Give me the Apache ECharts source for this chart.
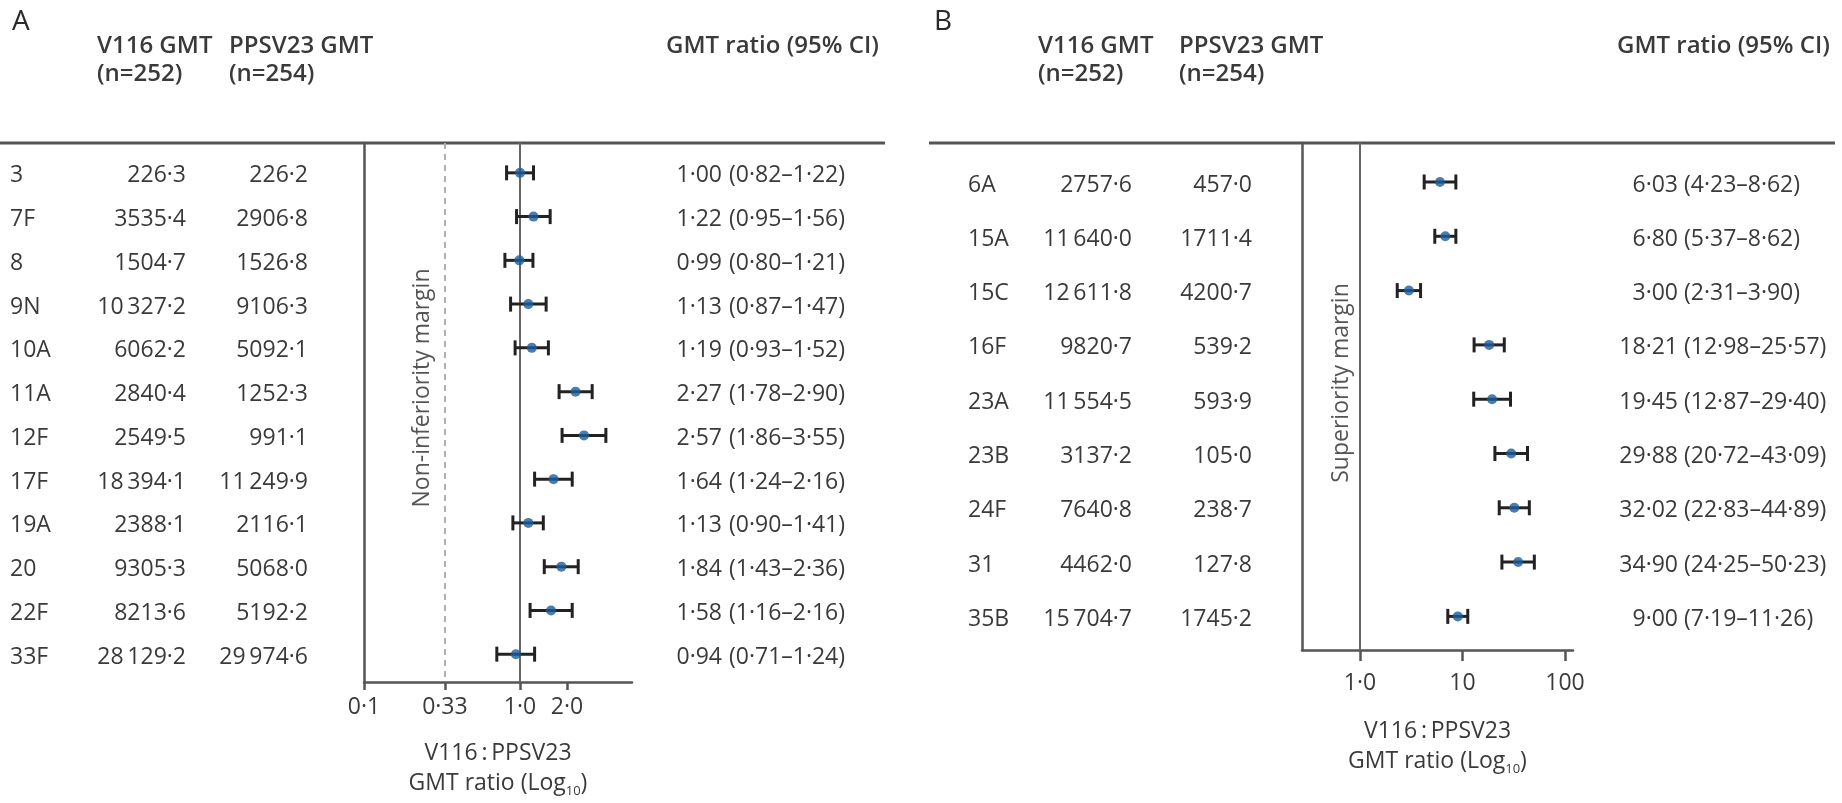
<!DOCTYPE html>
<html>
<head>
<meta charset="utf-8">
<script src="https://cdn.jsdelivr.net/npm/echarts@6/dist/echarts.min.js"></script>
<style>
  html, body { margin: 0; padding: 0; background: #fff; }
  #chart { width: 1842px; height: 803px; }
</style>
</head>
<body>
<div id="chart"></div>
<script>
// ---- Panel A: serotypes shared with PPSV23 (non-inferiority) ----
const serotypesA = ['3', '7F', '8', '9N', '10A', '11A', '12F', '17F', '19A', '20', '22F', '33F'];
const v116GmtA   = [226.3, 3535.4, 1504.7, 10327.2, 6062.2, 2840.4, 2549.5, 18394.1, 2388.1, 9305.3, 8213.6, 28129.2];
const ppsvGmtA   = [226.2, 2906.8, 1526.8, 9106.3, 5092.1, 1252.3, 991.1, 11249.9, 2116.1, 5068.0, 5192.2, 29974.6];
const ratioA     = [1.00, 1.22, 0.99, 1.13, 1.19, 2.27, 2.57, 1.64, 1.13, 1.84, 1.58, 0.94];
const lowA       = [0.82, 0.95, 0.80, 0.87, 0.93, 1.78, 1.86, 1.24, 0.90, 1.43, 1.16, 0.71];
const highA      = [1.22, 1.56, 1.21, 1.47, 1.52, 2.90, 3.55, 2.16, 1.41, 2.36, 2.16, 1.24];
const ticksA      = [0.1, 0.33, 1.0, 2.0];
const tickLabelsA = ['0·1', '0·33', '1·0', '2·0'];
const nonInferiorityMargin = 0.33;

// ---- Panel B: serotypes unique to V116 (superiority) ----
const serotypesB = ['6A', '15A', '15C', '16F', '23A', '23B', '24F', '31', '35B'];
const v116GmtB   = [2757.6, 11640.0, 12611.8, 9820.7, 11554.5, 3137.2, 7640.8, 4462.0, 15704.7];
const ppsvGmtB   = [457.0, 1711.4, 4200.7, 539.2, 593.9, 105.0, 238.7, 127.8, 1745.2];
const ratioB     = [6.03, 6.80, 3.00, 18.21, 19.45, 29.88, 32.02, 34.90, 9.00];
const lowB       = [4.23, 5.37, 2.31, 12.98, 12.87, 20.72, 22.83, 24.25, 7.19];
const highB      = [8.62, 8.62, 3.90, 25.57, 29.40, 43.09, 44.89, 50.23, 11.26];
const ticksB      = [1, 10, 100];
const tickLabelsB = ['1·0', '10', '100'];
const superiorityMargin = 1.0;

const headerV116 = ['V116 GMT', '(n=252)'];
const headerPpsv = ['PPSV23 GMT', '(n=254)'];
const headerRatio = 'GMT ratio (95% CI)';

// ---- styling ----
const FONT = '"Open Sans", "Noto Sans", sans-serif';
const TEXT = '#3a3a3a';
const AXIS = '#555555';
const POINT = '#1d5c9c';
const BAR = '#222222';
const BODY = 23;

const lg = Math.log10;

// Lancet-style numbers: middle-dot decimals, thin-space thousands for 5+ digits
function fmtGmt(v) {
  let [i, d] = v.toFixed(1).split('.');
  if (i.length > 4) i = i.slice(0, i.length - 3) + '\u2009' + i.slice(-3);
  return i + '·' + d;
}
function fmtRatio(v) { return v.toFixed(2).replace('.', '·'); }

const panels = [
  {
    rows: serotypesA, v116: v116GmtA, ppsv: ppsvGmtA, ratio: ratioA, low: lowA, high: highA,
    ticks: ticksA, tickLabels: tickLabelsA,
    grid: { left: 364, top: 143, width: 268, height: 542 },
    xRange: [0.1, 5.22], yRange: [-0.682, 11.636],
    cols: { label: 10, v116: 186, ppsv: 308, ratio: 722, ci: 729 },
    tickLen: 8, labelMargin: 14, nameGap: 56,
    refLines: [
      { xAxis: lg(1.0), lineStyle: { type: 'solid', color: '#666', width: 2 } },
      { xAxis: lg(nonInferiorityMargin), lineStyle: { type: [6, 5], color: '#b0b0b0', width: 2 } }
    ]
  },
  {
    rows: serotypesB, v116: v116GmtB, ppsv: ppsvGmtB, ratio: ratioB, low: lowB, high: highB,
    ticks: ticksB, tickLabels: tickLabelsB,
    grid: { left: 1302, top: 143, width: 271, height: 507 },
    xRange: [0.272, 119.7], yRange: [-0.718, 8.619],
    cols: { label: 968, v116: 1132, ppsv: 1252, ratio: 1678, ci: 1684 },
    tickLen: 11, labelMargin: 22, nameGap: 66,
    refLines: [
      { xAxis: lg(superiorityMargin), lineStyle: { type: 'solid', color: '#666', width: 2 } }
    ]
  }
];

const grids = [], xAxes = [], yAxes = [], series = [];

panels.forEach((p, k) => {
  grids.push(Object.assign({ containLabel: false }, p.grid));

  const tickVals = p.ticks.map(lg);
  xAxes.push({
    type: 'value', gridIndex: k,
    min: lg(p.xRange[0]), max: lg(p.xRange[1]),
    axisLine: { show: true, onZero: false, lineStyle: { color: AXIS, width: 2.5 } },
    axisTick: { show: true, customValues: tickVals, length: p.tickLen, lineStyle: { color: AXIS, width: 2.5 } },
    axisLabel: {
      show: true, customValues: tickVals, margin: p.labelMargin,
      fontFamily: FONT, fontSize: BODY, color: TEXT,
      formatter: v => {
        const idx = tickVals.findIndex(t => Math.abs(t - v) < 1e-6);
        return idx >= 0 ? p.tickLabels[idx] : '';
      }
    },
    splitLine: { show: false },
    name: '{a|V116\u2009:\u2009PPSV23}\n{a|GMT ratio (Log}{s|10}{a|)}',
    nameLocation: 'middle', nameGap: p.nameGap,
    nameTextStyle: {
      rich: {
        a: { fontFamily: FONT, fontSize: BODY, color: TEXT, lineHeight: 30 },
        s: { fontFamily: FONT, fontSize: 13, color: TEXT, lineHeight: 30, verticalAlign: 'bottom' }
      }
    }
  });

  yAxes.push({
    type: 'value', gridIndex: k, inverse: true,
    min: p.yRange[0], max: p.yRange[1],
    axisLine: { show: true, onZero: false, lineStyle: { color: AXIS, width: 2.5 } },
    axisTick: { show: false }, axisLabel: { show: false }, splitLine: { show: false }
  });

  // table columns: serotype, both GMTs, ratio and CI, placed on each row's y
  series.push({
    type: 'custom', xAxisIndex: k, yAxisIndex: k, clip: false, silent: true, z: 5,
    data: p.rows.map((_, i) => [lg(p.xRange[0]), i]),
    encode: { x: 0, y: 1 },
    renderItem: (params, api) => {
      const i = params.dataIndex;
      const y = api.coord([api.value(0), api.value(1)])[1] + 3;
      const c = p.cols;
      const txt = (text, x, align) => ({
        type: 'text',
        style: { text, x, y, align, verticalAlign: 'middle', fontFamily: FONT, fontSize: BODY, fill: TEXT }
      });
      return {
        type: 'group',
        children: [
          txt(p.rows[i], c.label, 'left'),
          txt(fmtGmt(p.v116[i]), c.v116, 'right'),
          txt(fmtGmt(p.ppsv[i]), c.ppsv, 'right'),
          txt(fmtRatio(p.ratio[i]), c.ratio, 'right'),
          txt('(' + fmtRatio(p.low[i]) + '–' + fmtRatio(p.high[i]) + ')', c.ci, 'left')
        ]
      };
    }
  });

  // 95% CI whiskers with end caps
  series.push({
    type: 'custom', xAxisIndex: k, yAxisIndex: k, silent: true, z: 6,
    data: p.rows.map((_, i) => [lg(p.low[i]), lg(p.high[i]), i]),
    encode: { x: [0, 1], y: 2 },
    renderItem: (params, api) => {
      const lo = api.coord([api.value(0), api.value(2)]);
      const hi = api.coord([api.value(1), api.value(2)]);
      const h = 7.5;
      const st = { stroke: BAR, lineWidth: 3 };
      return {
        type: 'group',
        children: [
          { type: 'line', shape: { x1: lo[0], y1: lo[1], x2: hi[0], y2: hi[1] }, style: st },
          { type: 'line', shape: { x1: lo[0], y1: lo[1] - h, x2: lo[0], y2: lo[1] + h }, style: st },
          { type: 'line', shape: { x1: hi[0], y1: hi[1] - h, x2: hi[0], y2: hi[1] + h }, style: st }
        ]
      };
    }
  });

  // point estimates, with the 1·0 line and margin line
  series.push({
    type: 'scatter', xAxisIndex: k, yAxisIndex: k, z: 8,
    symbol: 'circle', symbolSize: 10,
    itemStyle: { color: POINT },
    data: p.rows.map((_, i) => [lg(p.ratio[i]), i]),
    markLine: {
      silent: true, symbol: 'none', label: { show: false }, animation: false,
      data: p.refLines
    }
  });
});

const headerStyle = (text, x, y, align) => ({
  type: 'text', x, y,
  style: { text, align: align || 'left', verticalAlign: 'middle', fontFamily: FONT, fontSize: 24, fontWeight: 600, fill: TEXT }
});

const graphics = [
  { type: 'text', x: 12, y: 22, style: { text: 'A', verticalAlign: 'middle', fontFamily: FONT, fontSize: 28, fontWeight: 500, fill: '#2a2a2a' } },
  { type: 'text', x: 934, y: 22, style: { text: 'B', verticalAlign: 'middle', fontFamily: FONT, fontSize: 28, fontWeight: 500, fill: '#2a2a2a' } },

  headerStyle(headerV116[0], 97, 46), headerStyle(headerV116[1], 97, 74),
  headerStyle(headerPpsv[0], 229, 46), headerStyle(headerPpsv[1], 229, 74),
  headerStyle(headerRatio, 666, 46),
  headerStyle(headerV116[0], 1038, 46), headerStyle(headerV116[1], 1038, 74),
  headerStyle(headerPpsv[0], 1179, 46), headerStyle(headerPpsv[1], 1179, 74),
  headerStyle(headerRatio, 1617, 46),

  { type: 'line', shape: { x1: 0, y1: 143, x2: 885, y2: 143 }, style: { stroke: AXIS, lineWidth: 3 } },
  { type: 'line', shape: { x1: 929, y1: 143, x2: 1835, y2: 143 }, style: { stroke: AXIS, lineWidth: 3 } },

  { type: 'text', x: 422, y: 388, rotation: Math.PI / 2,
    style: { text: 'Non-inferiority margin', align: 'center', verticalAlign: 'middle', fontFamily: FONT, fontSize: BODY, fill: '#555' } },
  { type: 'text', x: 1341, y: 383, rotation: Math.PI / 2,
    style: { text: 'Superiority margin', align: 'center', verticalAlign: 'middle', fontFamily: FONT, fontSize: BODY, fill: '#555' } }
];

const chart = echarts.init(document.getElementById('chart'), null, { renderer: 'canvas' });
chart.setOption({
  animation: false,
  backgroundColor: '#ffffff',
  grid: grids,
  xAxis: xAxes,
  yAxis: yAxes,
  series,
  graphic: graphics
});
</script>
</body>
</html>
